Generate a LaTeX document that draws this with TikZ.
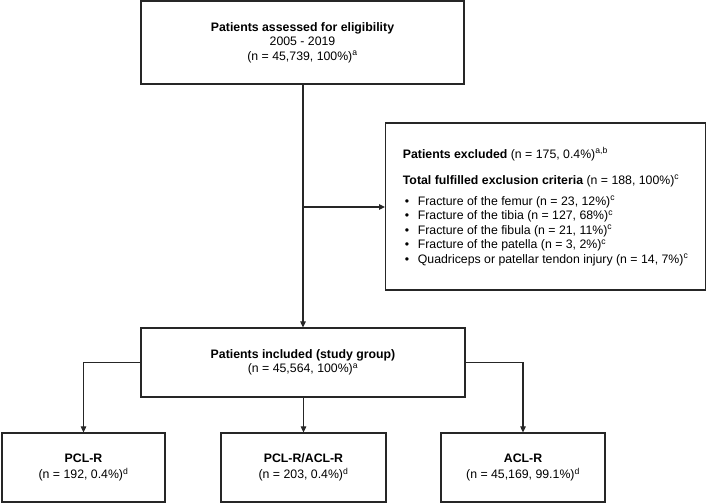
\documentclass[tikz,border=0pt]{standalone}
\usepackage{fontspec}
\setmainfont{Liberation Sans}
\usetikzlibrary{arrows.meta}
\begin{document}
\begin{tikzpicture}[x=1pt,y=-1pt,
  box/.style={draw=black!85,line width=1.2pt,rectangle,inner sep=0pt,align=center,
    font=\fontsize{12.3}{14.5}\selectfont},
  conn/.style={draw=black!85,line width=1.1pt},
  arr/.style={conn,-{Triangle[length=6pt,width=5.5pt]}}
]
\useasboundingbox (0,0) rectangle (709,503);
\node[box,minimum width=323pt,minimum height=83pt] (top) at (302.5,42.5)
  {\textbf{Patients assessed for eligibility}\\2005 - 2019\\(n = 45,739, 100\%)\textsuperscript{a}};
\node[box,anchor=west,minimum width=320pt,minimum height=167pt,align=left,inner xsep=17pt] (excl) at (385,206.5)
  {\textbf{Patients excluded} (n = 175, 0.4\%)\textsuperscript{a,b}\\[11.5pt]
   \textbf{Total fulfilled exclusion criteria} (n = 188, 100\%)\textsuperscript{c}\\[6.5pt]
   \makebox[15pt][l]{\,\textbullet}Fracture of the femur (n = 23, 12\%)\textsuperscript{c}\\
   \makebox[15pt][l]{\,\textbullet}Fracture of the tibia (n = 127, 68\%)\textsuperscript{c}\\
   \makebox[15pt][l]{\,\textbullet}Fracture of the fibula (n = 21, 11\%)\textsuperscript{c}\\
   \makebox[15pt][l]{\,\textbullet}Fracture of the patella (n = 3, 2\%)\textsuperscript{c}\\
   \makebox[15pt][l]{\,\textbullet}Quadriceps or patellar tendon injury (n = 14, 7\%)\textsuperscript{c}};
\node[box,minimum width=324pt,minimum height=69pt] (inc) at (303,362.5)
  {\textbf{Patients included (study group)}\\(n = 45,564, 100\%)\textsuperscript{a}};
\node[box,minimum width=163pt,minimum height=69pt] (pcl) at (83.5,467.5)
  {\textbf{PCL-R}\\[1.5pt](n = 192, 0.4\%)\textsuperscript{d}};
\node[box,minimum width=165pt,minimum height=69pt] (both) at (303.5,467.5)
  {\textbf{PCL-R/ACL-R}\\[1.5pt](n = 203, 0.4\%)\textsuperscript{d}};
\node[box,minimum width=164pt,minimum height=69pt] (acl) at (523,467.5)
  {\textbf{ACL-R}\\[1.5pt](n = 45,169, 99.1\%)\textsuperscript{d}};
\coordinate (j) at (303,207);
\draw[arr] (top.south -| inc.north) -- (inc.north);
\draw[arr] (j) -- (j -| excl.west);
\draw[arr] (inc.west) -| (pcl.north);
\draw[arr] (inc.south -| both.north) -- (both.north);
\draw[arr] (inc.east) -| (acl.north);
\end{tikzpicture}
\end{document}
